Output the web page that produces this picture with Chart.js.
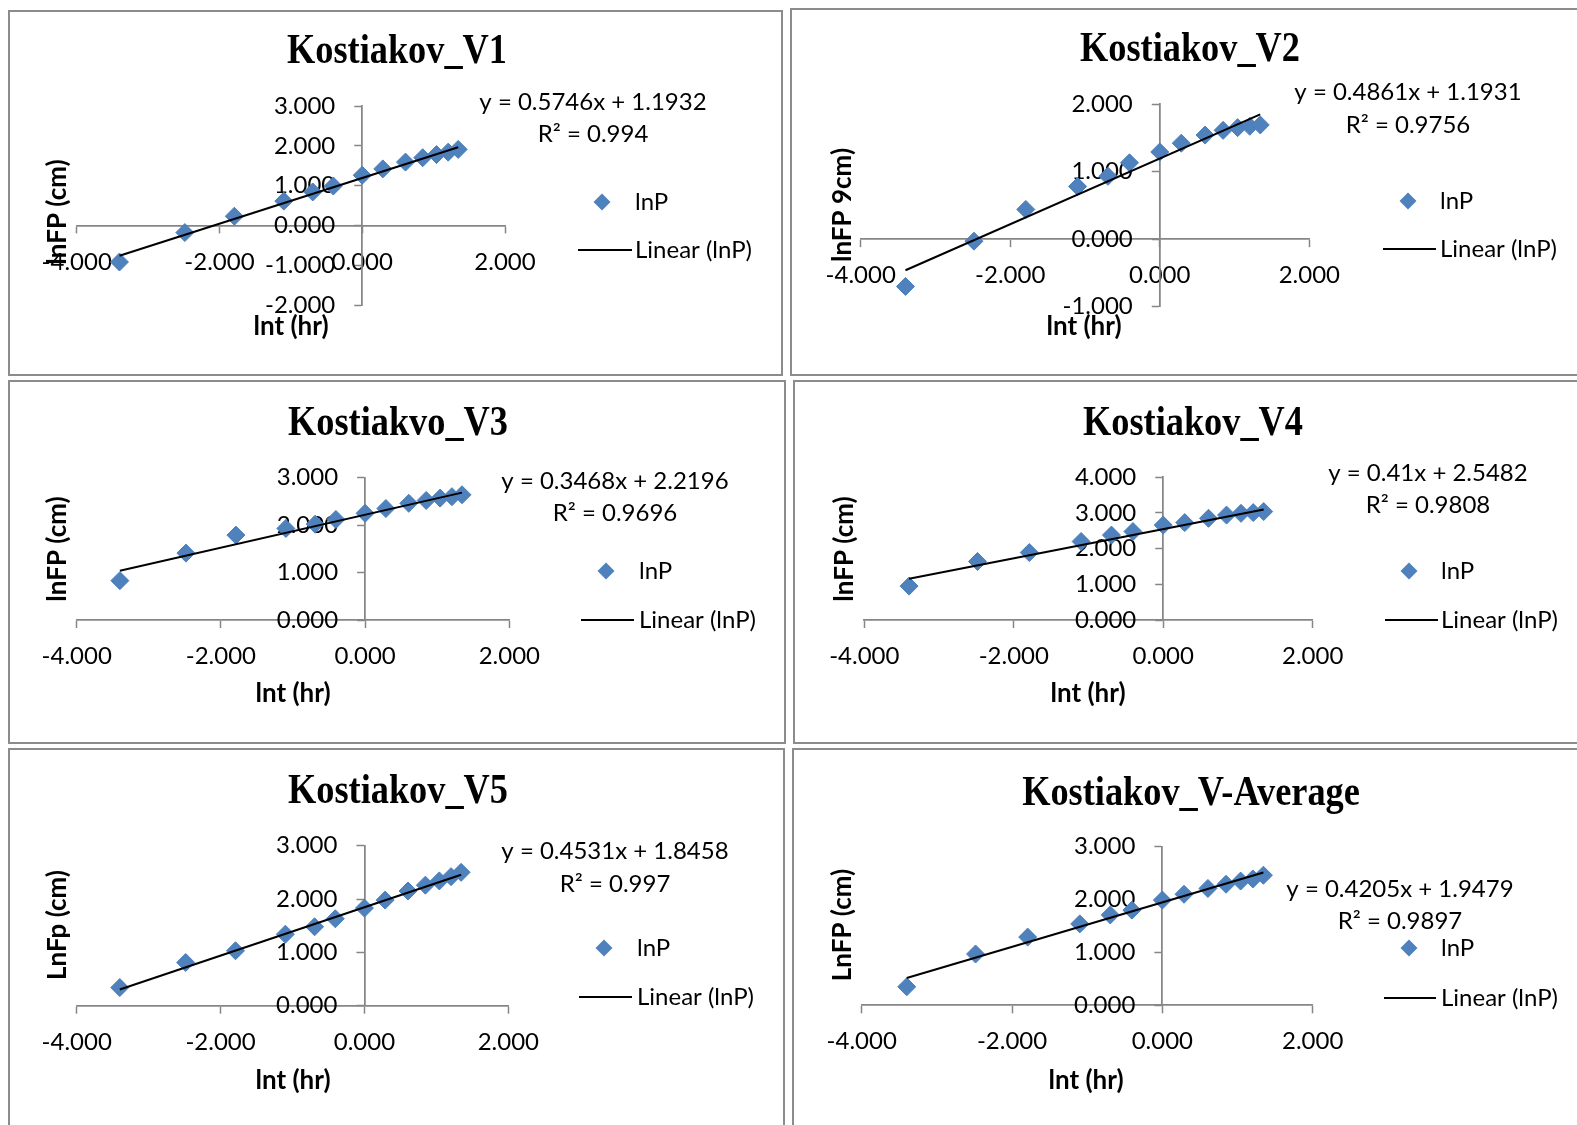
<!DOCTYPE html>
<html>
<head>
<meta charset="utf-8">
<script src="https://cdn.jsdelivr.net/npm/chart.js@4.4.1/dist/chart.umd.min.js"></script>
<style>
  html, body { margin: 0; padding: 0; background: #fff; overflow: hidden; }
  body { width: 1577px; height: 1125px; position: relative; }
  .panel { position: absolute; border: 2px solid #8c8c8c; box-sizing: border-box; background: #fff; }
  .panel canvas { position: absolute; left: 0; top: 0; }
</style>
</head>
<body>
<script>
// ln t (hr), same time steps for every test
const lnT = [-3.401, -2.485, -1.792, -1.099, -0.693, -0.405, 0.000, 0.288, 0.606, 0.847, 1.041, 1.204, 1.344]

const lnP_V1 = [-0.92, -0.18, 0.23, 0.61, 0.84, 0.99, 1.26, 1.42, 1.59, 1.70, 1.78, 1.84, 1.91]
const lnP_V2 = [-0.70, -0.03, 0.44, 0.78, 0.93, 1.13, 1.29, 1.42, 1.54, 1.61, 1.65, 1.67, 1.69]
const lnP_V3 = [0.83, 1.41, 1.79, 1.93, 2.02, 2.12, 2.25, 2.35, 2.46, 2.52, 2.57, 2.60, 2.64]
const lnP_V4 = [0.95, 1.64, 1.89, 2.20, 2.38, 2.48, 2.66, 2.73, 2.85, 2.94, 2.99, 3.01, 3.04]
const lnP_V5 = [0.34, 0.81, 1.03, 1.34, 1.48, 1.63, 1.83, 1.98, 2.15, 2.26, 2.34, 2.42, 2.50]
const lnP_Avg = [0.35, 0.97, 1.29, 1.54, 1.71, 1.80, 1.99, 2.10, 2.21, 2.29, 2.35, 2.39, 2.46]

const slopes = [0.5746, 0.4861, 0.3468, 0.41, 0.4531, 0.4205]
const intercepts = [1.1932, 1.1931, 2.2196, 2.5482, 1.8458, 1.9479]
const r2 = ['0.994', '0.9756', '0.9696', '0.9808', '0.997', '0.9897']

const titles = ['Kostiakov_V1', 'Kostiakov_V2', 'Kostiakvo_V3', 'Kostiakov_V4', 'Kostiakov_V5', 'Kostiakov_V-Average']
const yTitles = ['lnFP (cm)', 'lnFP 9cm)', 'lnFP (cm)', 'lnFP (cm)', 'LnFp (cm)', 'LnFP (cm)']
const xTitle = 'lnt (hr)'
const yMin = [-2, -1, 0, 0, 0, 0]
const yMax = [3, 2, 3, 4, 3, 3]
const xMin = -4, xMax = 2

const series = [lnP_V1, lnP_V2, lnP_V3, lnP_V4, lnP_V5, lnP_Avg]

// page positions of each panel (box = left, top, width, height; plot = x0, x1, yTop, yBottom)
const panelLayout = [
  { box: [8, 10, 775, 366], plot: [76.7, 505, 106, 305], title: [397, 52], yTitle: [58, 212], xTitle: [291, 327], eq: [593, 102, 134], legend: [602, 202, 635, 578, 632, 250] },
  { box: [790, 8, 800, 368], plot: [860.7, 1309.3, 104, 306.7], title: [1190, 50], yTitle: [843, 205], xTitle: [1084, 327], eq: [1408, 92, 125], legend: [1408, 201, 1440, 1383, 1436, 249] },
  { box: [8, 380, 778, 364], plot: [76.7, 509.3, 477.7, 620], title: [398, 424], yTitle: [58, 549], xTitle: [293, 694], eq: [615, 481, 513], legend: [606, 571, 639, 581, 634, 620] },
  { box: [793, 380, 800, 364], plot: [864.3, 1312.7, 477.3, 620], title: [1193, 424], yTitle: [845, 549], xTitle: [1088, 694], eq: [1428, 473, 505], legend: [1409, 571, 1441, 1385, 1438, 620] },
  { box: [8, 748, 777, 400], plot: [76.7, 508.3, 845.7, 1005.7], title: [398, 792], yTitle: [58, 925], xTitle: [293, 1081], eq: [615, 851, 884], legend: [604, 948, 637, 579, 632, 997] },
  { box: [792, 748, 800, 400], plot: [861.7, 1312.7, 846.7, 1005.3], title: [1191, 794], yTitle: [843, 925], xTitle: [1086, 1081], eq: [1400, 889, 921], legend: [1409, 948, 1441, 1384, 1436, 998] }
]

const blue = '#4F81BD'
const axisGrey = '#868686'
Chart.defaults.font.family = 'Lato'

// move the axes so they cross at 0, like Excel
// (the boxes are stretched to the canvas edge so the tick labels are not clipped)
const axisCross = {
  id: 'axisCross',
  afterLayout(chart) {
    const x = chart.scales.x, y = chart.scales.y
    const px = x.getPixelForValue(0), py = y.getPixelForValue(0)
    y.left = 0; y.right = px
    x.top = py; x.bottom = chart.height
  }
}

function decor(i, L, ox, oy) {
  return {
    id: 'decor',
    afterDraw(chart) {
      const c = chart.ctx
      c.save()
      c.fillStyle = '#000'
      c.textBaseline = 'middle'

      c.save()
      c.translate(L.title[0] - ox, L.title[1] - oy)
      c.scale(0.865, 1)
      c.textAlign = 'center'
      c.font = 'bold 42px "Liberation Serif"'
      c.fillText(titles[i], 0, 0)
      c.restore()

      c.save()
      c.translate(L.yTitle[0] - ox, L.yTitle[1] - oy)
      c.rotate(-Math.PI / 2)
      c.textAlign = 'center'
      c.font = 'bold 26px Lato'
      c.fillText(yTitles[i], 0, 0)
      c.restore()

      c.textAlign = 'center'
      c.font = 'bold 26px Lato'
      c.fillText(xTitle, L.xTitle[0] - ox, L.xTitle[1] - oy)

      c.font = '24px Lato'
      c.fillText('y = ' + slopes[i] + 'x + ' + intercepts[i], L.eq[0] - ox, L.eq[1] - oy)
      c.fillText('R² = ' + r2[i], L.eq[0] - ox, L.eq[2] - oy)

      // legend
      const [mx, my, tx, lx0, lx1, ly] = L.legend
      const r = 8.5
      c.fillStyle = blue
      c.beginPath()
      c.moveTo(mx - ox, my - oy - r)
      c.lineTo(mx - ox + r, my - oy)
      c.lineTo(mx - ox, my - oy + r)
      c.lineTo(mx - ox - r, my - oy)
      c.closePath()
      c.fill()
      c.strokeStyle = '#000'
      c.lineWidth = 2
      c.beginPath()
      c.moveTo(lx0 - ox, ly - oy)
      c.lineTo(lx1 - ox, ly - oy)
      c.stroke()
      c.fillStyle = '#000'
      c.textAlign = 'left'
      c.fillText('lnP', tx - ox, my - oy)
      c.fillText('Linear (lnP)', tx - ox, ly - oy)
      c.restore()
    }
  }
}

panelLayout.forEach((L, i) => {
  const div = document.createElement('div')
  div.className = 'panel'
  div.style.left = L.box[0] + 'px'
  div.style.top = L.box[1] + 'px'
  div.style.width = L.box[2] + 'px'
  div.style.height = L.box[3] + 'px'
  const cv = document.createElement('canvas')
  const cw = L.box[2] - 4, ch = L.box[3] - 4
  cv.width = cw; cv.height = ch
  cv.style.width = cw + 'px'; cv.style.height = ch + 'px'
  div.appendChild(cv)
  document.body.appendChild(div)
  const ox = L.box[0] + 2, oy = L.box[1] + 2

  const ys = series[i]
  const pts = lnT.map((x, k) => ({ x: x, y: ys[k] }))
  const x0 = Math.min(...lnT), x1 = Math.max(...lnT)
  const trend = [
    { x: x0, y: slopes[i] * x0 + intercepts[i] },
    { x: x1, y: slopes[i] * x1 + intercepts[i] }
  ]

  new Chart(cv, {
    type: 'scatter',
    data: {
      datasets: [
        { type: 'line', label: 'Linear (lnP)', data: trend, borderColor: '#000', borderWidth: 2, pointRadius: 0, showLine: true, fill: false },
        { label: 'lnP', data: pts, pointStyle: 'rectRot', pointRadius: 9, pointHoverRadius: 9, backgroundColor: blue, borderColor: '#4A7EBB', borderWidth: 1 }
      ]
    },
    options: {
      responsive: false,
      animation: false,
      devicePixelRatio: 1,
      layout: {
        padding: {
          left: L.plot[0] - ox,
          right: cw - (L.plot[1] - ox),
          top: L.plot[2] - oy,
          bottom: ch - (L.plot[3] - oy)
        }
      },
      plugins: { legend: { display: false }, tooltip: { enabled: false }, title: { display: false } },
      scales: {
        x: {
          type: 'linear', position: 'bottom', min: xMin, max: xMax, z: 1,
          afterFit: s => { s.height = 0; s.paddingLeft = 0; s.paddingRight = 0 },
          ticks: { stepSize: 2, autoSkip: false, maxRotation: 0, padding: 14, color: '#000', font: { size: 24 }, callback: v => v.toFixed(3) },
          grid: { drawOnChartArea: false, drawTicks: true, tickLength: 8, tickColor: axisGrey, tickWidth: 1.5 },
          border: { display: true, color: axisGrey, width: 1.75 }
        },
        y: {
          type: 'linear', position: 'left', min: yMin[i], max: yMax[i], z: 1,
          afterFit: s => { s.width = 0; s.paddingTop = 0; s.paddingBottom = 0 },
          ticks: { stepSize: 1, autoSkip: false, padding: 19, color: '#000', font: { size: 24 }, callback: v => v.toFixed(3) },
          grid: { drawOnChartArea: false, drawTicks: true, tickLength: 8, tickColor: axisGrey, tickWidth: 1.5 },
          border: { display: true, color: axisGrey, width: 1.75 }
        }
      }
    },
    plugins: [axisCross, decor(i, L, ox, oy)]
  })
})
</script>
</body>
</html>
